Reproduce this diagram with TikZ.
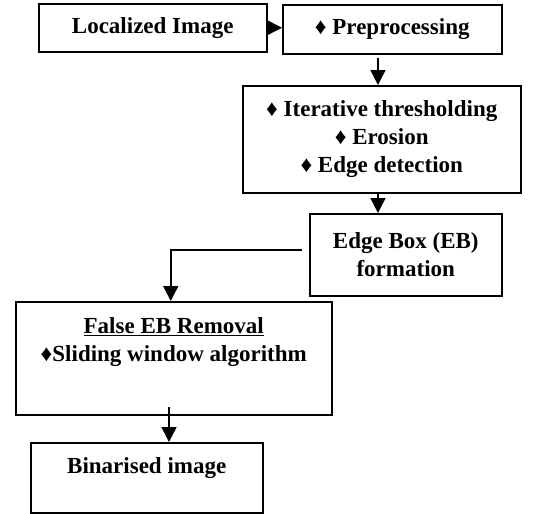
\documentclass[tikz,border=0pt]{standalone}
\usepackage{fontspec}
\setmainfont{Liberation Serif}
\usetikzlibrary{arrows.meta}

\tikzset{
  stage/.style={draw, line width=1.5pt, anchor=north west, align=center,
    inner sep=0pt, font=\fontsize{23}{28}\selectfont\bfseries},
  flow/.style={line width=1.5pt, -{Triangle[width=15pt,length=15pt]}}
}

\begin{document}
\begin{tikzpicture}[x=1pt,y=-1pt]
    \useasboundingbox (0,0) rectangle (542,514);

    \node[stage, minimum width=228pt, minimum height=48pt] (loc) at (38,3) {Localized Image};
    \node[stage, minimum width=219pt, minimum height=49pt] (pre) at (282,4) {♦ Preprocessing};
    \node[stage, minimum width=278pt, minimum height=107pt] (iter) at (242,85)
        {♦ Iterative thresholding\\♦ Erosion\\♦ Edge detection};
    \node[stage, minimum width=192pt, minimum height=82pt] (eb) at (309,213)
        {Edge Box (EB)\\formation};
    \node[stage, minimum width=316pt, minimum height=113pt, text depth=38pt] (fr) at (15,301)
        {\underline{False EB Removal}\\♦Sliding window algorithm};
    \node[stage, minimum width=232pt, minimum height=70pt, text depth=24pt] (bin) at (30,442)
        {Binarised image};

    \coordinate (ppout) at (378,58);
    \coordinate (ebout) at (302,250);
    \coordinate (frout) at (169,407);

    \draw[flow] (loc.east) -- (loc.east -| pre.west);
    \draw[flow] (ppout) -- (ppout |- iter.north);
    \draw[flow] (iter.south -| ppout) -- (eb.north -| ppout);
    \draw[flow] (ebout) -| ([xshift=-3pt]fr.north);
    \draw[flow] (frout) -- (frout |- bin.north);
\end{tikzpicture}
\end{document}
